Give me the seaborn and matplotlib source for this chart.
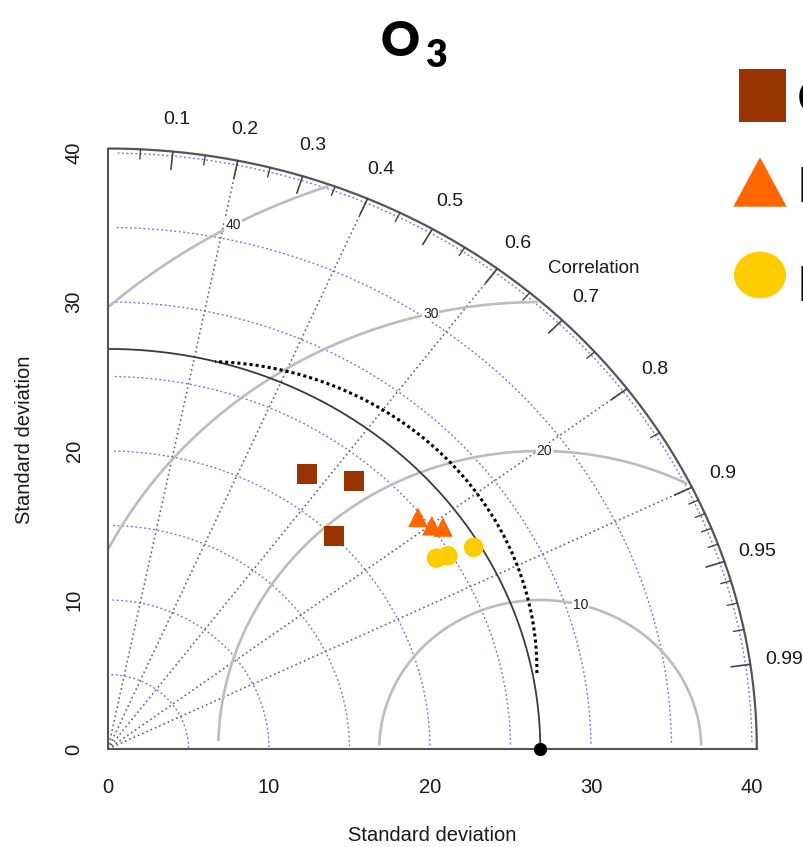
import matplotlib
matplotlib.use("Agg")
import matplotlib.pyplot as plt
import numpy as np
import pandas as pd
import seaborn as sns
from matplotlib.patches import Rectangle, Polygon, Ellipse

obs_sd = 26.85
max_sd = 40.3
model_names = ["CMAQ", "CMAQ", "CMAQ", "LUR", "LUR", "LUR", "RF", "RF", "RF"]
model_sd = [22.22, 23.60, 20.04, 24.75, 25.08, 25.59, 24.09, 24.77, 26.44]
model_corr = [0.556, 0.647, 0.701, 0.778, 0.802, 0.813, 0.847, 0.852, 0.859]
series = ["CMAQ", "LUR", "RF"]
colors = {"CMAQ": "#993300", "LUR": "#FF6600", "RF": "#FFCC00"}
markers = {"CMAQ": "s", "LUR": "^", "RF": "o"}

sd_ticks = [0, 10, 20, 30, 40]
sd_arcs = [5, 10, 15, 20, 25, 30, 35, 40]
rms_arcs = [10, 20, 30, 40]
rms_label_deg = [75.4, 89.3, 103.1, 118.5]
corr_labels = [0.1, 0.2, 0.3, 0.4, 0.5, 0.6, 0.7, 0.8, 0.9, 0.95, 0.99]
corr_minor = [0.05, 0.15, 0.25, 0.35, 0.45, 0.55, 0.65, 0.75, 0.85,
              0.91, 0.92, 0.93, 0.94, 0.96, 0.97, 0.98]
corr_lines = [0.2, 0.4, 0.6, 0.8, 0.9]
# dotted black arc (centre x, centre y, radius, start deg, end deg)
sim_arc = (5.94, 5.31, 20.7, -0.6, 88.0)

sns.set_theme(style="white")
plt.rcParams["font.family"] = ["Liberation Sans", "DejaVu Sans"]

W, H = 804, 847
X0, Y0, KX, KY = 108, 749, 16.1, 14.9
fig = plt.figure(figsize=(W / 100, H / 100), dpi=100)
ax = fig.add_axes([0, 0, 1, 1])
ax.set_facecolor("white")

# sd arcs (blue dotted)
th = np.linspace(0.012, np.pi / 2 - 0.012, 300)
for r in sd_arcs:
    ax.plot(r * np.cos(th), r * np.sin(th), color="#7878d2", lw=1.0,
            ls=(0, (1.4, 1.8)), zorder=1)

# correlation rays (gray dotted)
for c in corr_lines:
    a = np.arccos(c)
    ax.plot([0, max_sd * np.cos(a)], [0, max_sd * np.sin(a)], color="#666666",
            lw=1.2, ls=(0, (1, 1.8)), zorder=2)

# centred RMS arcs around the reference point
t = np.linspace(0.03, np.pi - 0.03, 600)
for r, deg in zip(rms_arcs, rms_label_deg):
    x = obs_sd + r * np.cos(t)
    y = r * np.sin(t)
    keep = (x >= 0) & (np.hypot(x, y) <= max_sd - 0.15)
    ax.plot(x[keep], y[keep], color="#bcbcbc", lw=1.9, zorder=2)
    a = np.deg2rad(deg)
    ax.text(obs_sd + r * np.cos(a), r * np.sin(a), str(r), fontsize=10,
            color="#222222", ha="center", va="center", zorder=3,
            bbox=dict(facecolor="white", edgecolor="none", pad=0.6))

# outer arc and reference arc
q = np.linspace(0, np.pi / 2, 300)
ax.plot(max_sd * np.cos(q), max_sd * np.sin(q), color="#555555", lw=1.6, zorder=3)
ax.plot(obs_sd * np.cos(q), obs_sd * np.sin(q), color="#3a3a3a", lw=1.3, zorder=3)

cx, cy, cr, d0, d1 = sim_arc
s = np.deg2rad(np.linspace(d0, d1, 300))
ax.plot(cx + cr * np.cos(s), cy + cr * np.sin(s), color="black", lw=2.2,
        ls=(0, (1, 1)), zorder=3)

# correlation ticks and labels
for c in corr_labels:
    a = np.arccos(c)
    ax.plot([max_sd * np.cos(a), (max_sd - 1.2) * np.cos(a)],
            [max_sd * np.sin(a), (max_sd - 1.2) * np.sin(a)], color="#444444", lw=1.2, zorder=3)
    ax.text(1.053 * max_sd * np.cos(a), 1.053 * max_sd * np.sin(a), f"{c:g}",
            fontsize=14, color="#1a1a1a", ha="center", va="center")
for c in corr_minor:
    a = np.arccos(c)
    ax.plot([max_sd * np.cos(a), (max_sd - 0.65) * np.cos(a)],
            [max_sd * np.sin(a), (max_sd - 0.65) * np.sin(a)], color="#444444", lw=1.0, zorder=3)
a = np.deg2rad(46.9)
ax.text(44.2 * np.cos(a), 44.2 * np.sin(a), "Correlation", fontsize=13.5,
        color="#1a1a1a", ha="center", va="center")

# model points
sd = np.array(model_sd)
cr_ = np.array(model_corr)
df = pd.DataFrame({"model": model_names, "x": sd * cr_, "y": sd * np.sqrt(1 - cr_ ** 2)})
sns.scatterplot(data=df, x="x", y="y", hue="model", style="model", hue_order=series,
                palette=colors, markers=markers, s=200, linewidth=0, legend=False,
                ax=ax, zorder=6)
ax.plot([obs_sd], [0], "o", color="black", ms=8.5, zorder=7, clip_on=False)

# axes
ax.set_xlim(-X0 / KX, (W - X0) / KX)
ax.set_ylim((Y0 - H) / KY, Y0 / KY)
for side in ["top", "right"]:
    ax.spines[side].set_visible(False)
for side in ["left", "bottom"]:
    ax.spines[side].set_position(("data", 0))
    ax.spines[side].set_bounds(0, max_sd)
    ax.spines[side].set_color("#555555")
    ax.spines[side].set_linewidth(1.5)
    ax.spines[side].set_zorder(4)
ax.set_xticks(sd_ticks)
ax.set_yticks(sd_ticks)
ax.tick_params(axis="both", direction="out", length=8.6, width=1.2, color="#333333",
               labelsize=14.5, labelcolor="#1a1a1a")
ax.tick_params(axis="x", pad=12)
ax.tick_params(axis="y", pad=9)
for lab in ax.get_yticklabels():
    lab.set_rotation(90)
    lab.set_va("center")
ax.set_xlabel("")
ax.set_ylabel("")
ax.grid(False)
ax.text((432 - X0) / KX, (Y0 - 835) / KY, "Standard deviation", fontsize=14.5,
        color="#1a1a1a", ha="center", va="center")
ax.text((25 - X0) / KX, (Y0 - 440) / KY, "Standard deviation", fontsize=14.5,
        color="#1a1a1a", ha="center", va="center", rotation=90)


def fx(px):
    return px / W


def fy(py):
    return 1 - py / H


# title
fig.text(fx(400.5), fy(56.5), "O", fontsize=34.5, fontweight="heavy", family="Lato",
         color="black", ha="center", va="baseline")
fig.text(fx(436), fy(67), "3", fontsize=27, fontweight="heavy", family="Lato",
         color="black", ha="center", va="baseline")

# legend, cut by the right edge as in the source
fig.add_artist(Rectangle((fx(739), fy(121.7)), fx(47), 52.7 / H, transform=fig.transFigure,
                         facecolor=colors["CMAQ"], edgecolor="none"))
fig.add_artist(Polygon([(fx(733.3), fy(206.7)), (fx(786.7), fy(206.7)), (fx(760), fy(157.3))],
                       closed=True, transform=fig.transFigure, facecolor=colors["LUR"],
                       edgecolor="none"))
fig.add_artist(Ellipse((fx(760), fy(275)), fx(52), 46.6 / H, transform=fig.transFigure,
                       facecolor=colors["RF"], edgecolor="none"))
for name, base in zip(series, [114, 202, 301]):
    fig.text(fx(797), fy(base), name, fontsize=35, family="Lato", color="black",
             ha="left", va="baseline")

fig.savefig("out.png", dpi=100)
